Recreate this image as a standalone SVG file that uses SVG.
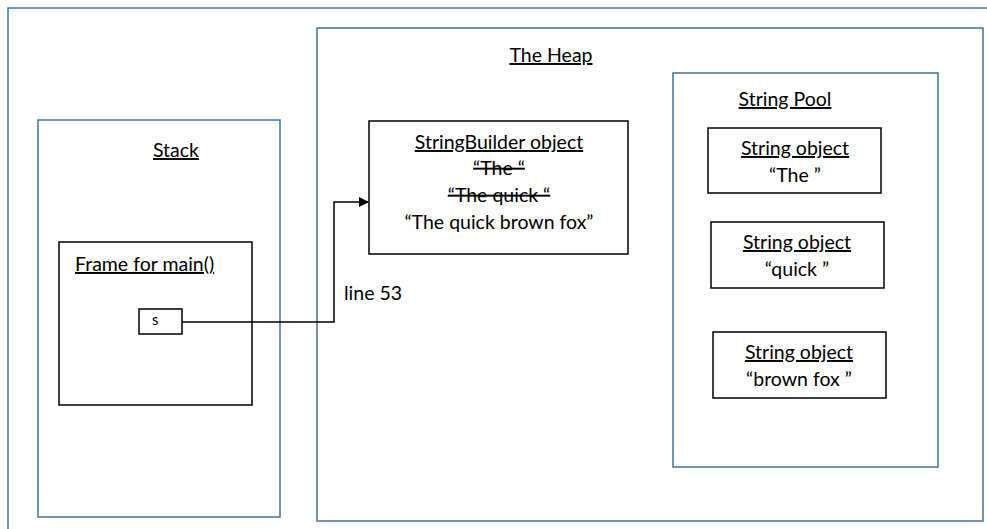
<svg xmlns="http://www.w3.org/2000/svg" width="987" height="529" viewBox="0 0 987 529">
<style>
.area{fill:#fff;stroke:#41719C;stroke-width:1.5}
.box{fill:#fff;stroke:#000;stroke-width:1.5}
text{font-family:Lato,"Liberation Sans",sans-serif;font-size:19.5px;fill:#000}
.c{text-anchor:middle}
.u{text-decoration:underline}
.s{text-decoration:line-through}
.conn{fill:none;stroke:#000;stroke-width:1.5}
</style>
<defs>
<marker id="arr" markerWidth="10" markerHeight="10" refX="9" refY="5" orient="auto" markerUnits="userSpaceOnUse">
<path d="M0,0 L10,5 L0,10 z" fill="#000"/>
</marker>
</defs>
<rect width="987" height="529" fill="#fff"/>
<g id="outer"><rect class="area" x="8" y="8" width="1000" height="540"/></g>
<g id="stack">
<rect class="area" x="38" y="120" width="242" height="397"/>
<text class="c u" x="176" y="157">Stack</text>
</g>
<g id="heap">
<rect class="area" x="317" y="28" width="666" height="493"/>
<text class="c u" x="551" y="62">The Heap</text>
</g>
<g id="frame">
<rect class="box" x="59" y="242" width="193" height="163"/>
<text class="u" x="75" y="271">Frame for main()</text>
</g>
<g id="var-s">
<rect class="box" x="139" y="309" width="43" height="25"/>
<text x="152" y="325" style="font-size:15px">s</text>
</g>
<g id="stringbuilder">
<rect class="box" x="369" y="121" width="259" height="133"/>
<text class="c u" x="499" y="149">StringBuilder object</text>
<text class="c s" x="499" y="175">“The “</text>
<text class="c s" x="499" y="202">“The quick “</text>
<text class="c" x="499" y="229">“The quick brown fox”</text>
</g>
<g id="stringpool">
<rect class="area" x="673" y="73" width="265" height="394"/>
<text class="c u" x="785" y="106">String Pool</text>
</g>
<g id="str-the">
<rect class="box" x="708" y="128" width="173" height="65"/>
<text class="c u" x="795" y="155">String object</text>
<text class="c" x="795" y="182">“The ”</text>
</g>
<g id="str-quick">
<rect class="box" x="711" y="222" width="173" height="66"/>
<text class="c u" x="797" y="249">String object</text>
<text class="c" x="797" y="276">“quick ”</text>
</g>
<g id="str-brown">
<rect class="box" x="713" y="332" width="173" height="66"/>
<text class="c u" x="799" y="359">String object</text>
<text class="c" x="799" y="386">“brown fox ”</text>
</g>
<g id="connectors">
<path class="conn" d="M182,322 H334 V202 H368" marker-end="url(#arr)"/>
<text x="344" y="300">line 53</text>
</g>
</svg>
